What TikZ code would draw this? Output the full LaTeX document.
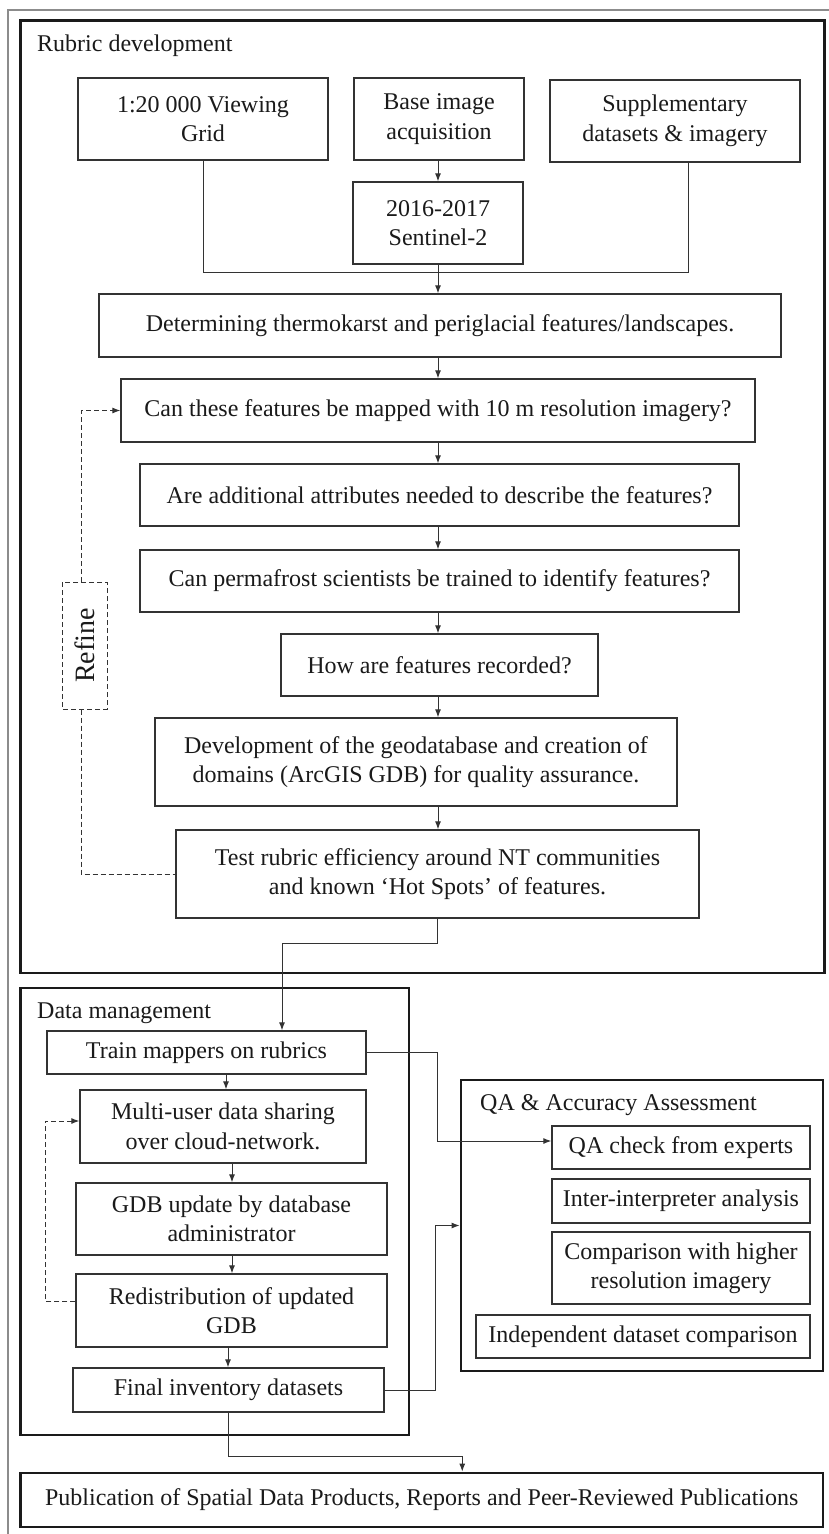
\documentclass[tikz,border=0pt]{standalone}
\usepackage{fontspec}
\setmainfont{Liberation Serif}
\usetikzlibrary{arrows.meta,calc}
\definecolor{linec}{HTML}{333333}
\definecolor{framec}{HTML}{1A1A1A}
\definecolor{txtc}{HTML}{1A1A1A}
\definecolor{outerc}{HTML}{8C8C8C}
\begin{document}
\begin{tikzpicture}[x=1pt,y=-1pt,
  box/.style={draw=linec, line width=1.3pt, align=center, inner sep=2pt,
    font=\fontsize{24}{29.5}\selectfont, text=txtc},
  bigframe/.style={draw=framec, line width=2.8pt, inner sep=0pt},
  lbl/.style={anchor=west, inner sep=0pt, font=\fontsize{24}{29.5}\selectfont, text=txtc},
  arr/.style={draw=linec, line width=1pt, -{Latex[length=8pt,width=6pt]}},
  conn/.style={draw=linec, line width=1pt},
  dsh/.style={draw=linec, line width=1pt, dash pattern=on 5pt off 3pt},
]
\useasboundingbox (0,0) rectangle (828,1534);
\fill[white] (0,0) rectangle (828,1534);
% outer thin frame
\draw[outerc, line width=1.4pt] (8,1540) -- (8,10) -- (834,10);

% ---------- Rubric development ----------
\node[bigframe, minimum width=804, minimum height=952.5] (rubric) at (422.5,496.75) {};
\node[lbl] (rubriclbl) at (37,46) {Rubric development};

\node[box, minimum width=250, minimum height=82] (grid) at (203,119) {1:20 000 Viewing\\Grid};
\node[box, minimum width=170, minimum height=82] (base) at (439,119) {Base image\\acquisition};
\node[box, minimum width=250, minimum height=82] (supp) at (675,121) {Supplementary\\datasets \& imagery};
\node[box, minimum width=170, minimum height=82] (sent) at (438,223) {2016-2017\\Sentinel-2};
\node[box, minimum width=682, minimum height=63] (det) at (440,325.5) {Determining thermokarst and periglacial features/landscapes.};
\node[box, minimum width=634, minimum height=63] (can) at (438,410.5) {Can these features be mapped with 10 m resolution imagery?};
\node[box, minimum width=599, minimum height=62] (add) at (439.5,495) {Are additional attributes needed to describe the features?};
\node[box, minimum width=599, minimum height=62] (perm) at (439.5,581) {Can permafrost scientists be trained to identify features?};
\node[box, minimum width=317, minimum height=62] (how) at (439.5,665) {How are features recorded?};
\node[box, minimum width=522, minimum height=88] (dev) at (416,762) {Development of the geodatabase and creation of\\domains (ArcGIS GDB) for quality assurance.};
\node[box, minimum width=523, minimum height=88] (test) at (437.5,874) {Test rubric efficiency around NT communities\\and known ‘Hot Spots’ of features.};
\node[draw=linec, line width=1pt, dash pattern=on 5pt off 3pt, rotate=90,
  minimum width=127, minimum height=45, inner sep=0pt,
  font=\fontsize{28}{30}\selectfont, text=txtc] (refine) at (84.5,645.5) {Refine};

\coordinate (ax) at (438,0);
\draw[arr] (ax |- base.south) -- (ax |- sent.north);
\draw[arr] (ax |- sent.south) -- (ax |- det.north);
\draw[arr] (ax |- det.south) -- (ax |- can.north);
\draw[arr] (ax |- can.south) -- (ax |- add.north);
\draw[arr] (ax |- add.south) -- (ax |- perm.north);
\draw[arr] (ax |- perm.south) -- (ax |- how.north);
\draw[arr] (ax |- how.south) -- (ax |- dev.north);
\draw[arr] (ax |- dev.south) -- (ax |- test.north);
\draw[conn] (grid.south) -- ++(0,112) -| ($(supp.south)+(13,0)$);

\draw[dsh, -{Latex[length=8pt,width=6pt]}] ($(refine.east)+(-3.5,0)$) |- (can.west);
\draw[dsh] ($(refine.west)+(-3.5,0)$) |- (test.west);

% ---------- Data management ----------
\node[bigframe, minimum width=388.5, minimum height=447] (dm) at (214.75,1211.5) {};
\node[lbl] (dmlbl) at (37,1013) {Data management};

\node[box, minimum width=319, minimum height=43] (train) at (206.5,1052.5) {Train mappers on rubrics};
\node[box, minimum width=286, minimum height=73] (multi) at (223,1126.5) {Multi-user data sharing\\over cloud-network.};
\node[box, minimum width=311, minimum height=72] (gdb) at (231.5,1219) {GDB update by database\\administrator};
\node[box, minimum width=311, minimum height=73] (redis) at (231.5,1310.5) {Redistribution of updated\\GDB};
\node[box, minimum width=311, minimum height=44] (final) at (228.5,1390) {Final inventory datasets};

\draw[arr] (test.south) -- ($(test.south)+(0,25)$) -| ($(train.north)+(75.5,0)$);

\coordinate (bx) at (226,0);
\coordinate (cx) at (232,0);
\coordinate (dx) at (228,0);
\draw[arr] (bx |- train.south) -- (bx |- multi.north);
\draw[arr] (cx |- multi.south) -- (cx |- gdb.north);
\draw[arr] (cx |- gdb.south) -- (cx |- redis.north);
\draw[arr] (dx |- redis.south) -- (dx |- final.north);
\draw[dsh, -{Latex[length=8pt,width=6pt]}] ($(redis.west)+(0,-9.5)$) -- ++(-30,0) |- ($(multi.west)+(0,-5.5)$);

% ---------- QA & Accuracy Assessment ----------
\node[bigframe, minimum width=362, minimum height=291] (qa) at (642,1225.5) {};
\node[lbl] (qalbl) at (480,1105) {QA \& Accuracy Assessment};

\node[box, minimum width=258, minimum height=43] (qacheck) at (681,1147.5) {QA check from experts};
\node[box, minimum width=258, minimum height=44] (inter) at (681,1201) {Inter-interpreter analysis};
\node[box, minimum width=258, minimum height=72] (comp) at (681,1268) {Comparison with higher\\resolution imagery};
\node[box, minimum width=334, minimum height=43] (indep) at (643,1336.5) {Independent dataset comparison};

\draw[arr] (train.east) -- ++(71,0) |- ($(qacheck.west)+(0,-6.5)$);
\draw[arr] (final.east) -| ($(qa.west)+(-24,0)$) -- (qa.west);

% ---------- Publication ----------
\node[bigframe, minimum width=802.5, minimum height=54, font=\fontsize{24}{29.5}\selectfont, text=txtc]
  (pub) at (421.75,1500) {Publication of Spatial Data Products, Reports and Peer-Reviewed Publications};
\draw[arr] (final.south) |- ($(pub.north)+(40.5,-15)$) -- ($(pub.north)+(40.5,0)$);
\end{tikzpicture}
\end{document}
